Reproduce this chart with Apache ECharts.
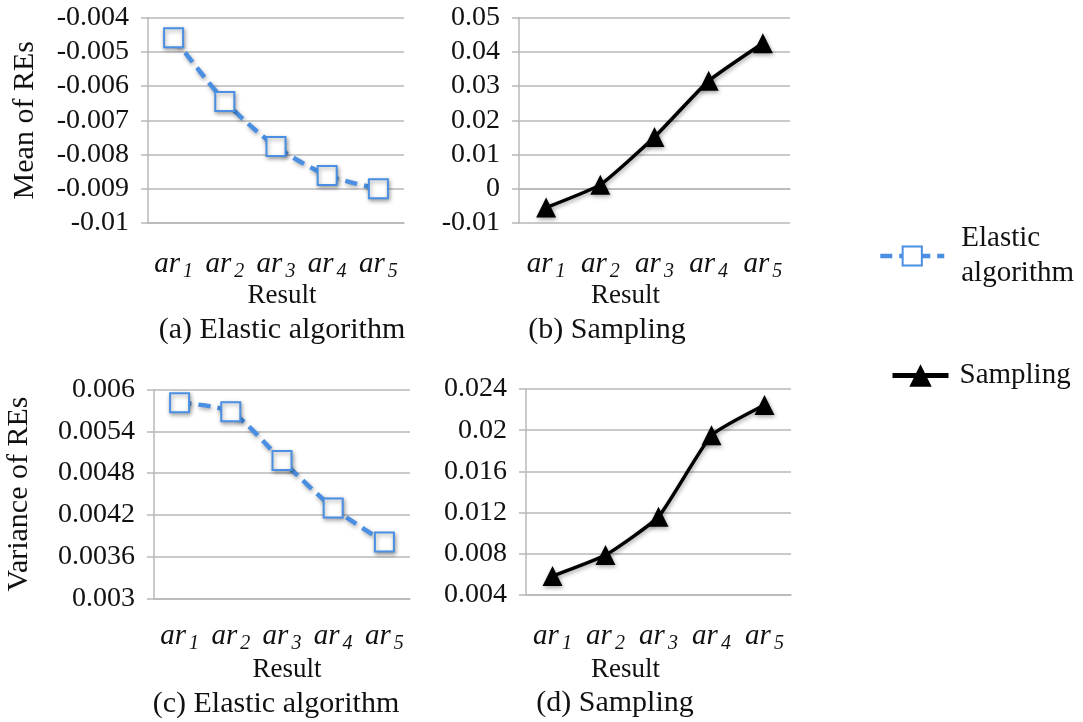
<!DOCTYPE html>
<html>
<head>
<meta charset="utf-8">
<script src="https://cdn.jsdelivr.net/npm/echarts@6/dist/echarts.min.js"></script>
<style>
  html, body { margin: 0; padding: 0; background: #fff; }
  #chart { width: 1083px; height: 722px; }
</style>
</head>
<body>
<div id="chart"></div>
<script>
// Categories and the subscript index shown after "ar"
const categories = ['ar1', 'ar2', 'ar3', 'ar4', 'ar5'];
const subscripts = ['1', '2', '3', '4', '5'];

// Mean of relative errors
const meanElastic = [-0.00459, -0.00645, -0.00777, -0.00861, -0.00900];
const meanSampling = [-0.0055, 0.0012, 0.0151, 0.0315, 0.0425];

// Variance of relative errors
const varElastic = [0.00581, 0.00568, 0.00498, 0.00430, 0.00381];
const varSampling = [0.00584, 0.00788, 0.0116, 0.0195, 0.02245];

// Y tick values (min, max, step) for each panel
const ticksA = [-0.01, -0.004, 0.001];
const ticksB = [-0.01, 0.05, 0.01];
const ticksC = [0.003, 0.006, 0.0006];
const ticksD = [0.004, 0.024, 0.004];

const panelTitles = ['(a) Elastic algorithm', '(b) Sampling', '(c) Elastic algorithm', '(d) Sampling'];
const seriesNames = ['Elastic algorithm', 'Sampling'];

const FONT = '"Liberation Serif", "DejaVu Serif", serif';
const BLUE = '#4a8fe2';
const GRID_COLOR = '#b8b8b8';

const chart = echarts.init(document.getElementById('chart'), null, { renderer: 'canvas' });

const grids = [
  { left: 148, top: 17.5, width: 256, height: 205.5 },
  { left: 519, top: 17.5, width: 271, height: 205.5 },
  { left: 154, top: 389.5, width: 256, height: 209 },
  { left: 526, top: 389, width: 265, height: 206 }
];

// namePad: [left, right] padding that nudges the "Result" name off the grid centre
function xAxis(gridIndex, labelMargin, nameGap, namePad) {
  return {
    type: 'category',
    gridIndex,
    data: categories,
    boundaryGap: true,
    axisLine: { show: true, lineStyle: { color: GRID_COLOR, width: 1.5 } },
    axisTick: { show: false },
    axisLabel: {
      interval: 0,
      hideOverlap: false,
      margin: labelMargin,
      formatter: (v, i) => '{a|ar}{s|' + subscripts[i] + '}',
      rich: {
        a: { fontFamily: FONT, fontSize: 29, fontStyle: 'italic', color: '#111' },
        s: { fontFamily: FONT, fontSize: 20, fontStyle: 'italic', color: '#111', padding: [15, 0, 0, 3] }
      }
    },
    name: 'Result',
    nameLocation: 'middle',
    nameGap,
    nameTextStyle: {
      fontFamily: FONT, fontSize: 27, color: '#111',
      padding: [0, namePad[1], 0, namePad[0]]
    }
  };
}

function yAxis(gridIndex, ticks, name, nameGap) {
  return {
    type: 'value',
    gridIndex,
    min: ticks[0],
    max: ticks[1],
    interval: ticks[2],
    axisLine: { show: true, lineStyle: { color: GRID_COLOR, width: 1.5 } },
    axisTick: { show: true, length: 7, lineStyle: { color: GRID_COLOR, width: 1.5 } },
    splitLine: { show: true, lineStyle: { color: GRID_COLOR, width: 1.5 } },
    axisLabel: {
      margin: 19,
      fontFamily: FONT,
      fontSize: 28,
      color: '#111',
      formatter: v => String(Number(v.toFixed(5)))
    },
    name: name || '',
    nameLocation: 'middle',
    nameRotate: 90,
    nameGap: nameGap || 0,
    nameTextStyle: { fontFamily: FONT, fontSize: 30, color: '#111' }
  };
}

const shadow = { shadowColor: 'rgba(0,0,0,0.35)', shadowBlur: 4, shadowOffsetX: 1, shadowOffsetY: 2 };

function elasticSeries(idx, data) {
  return {
    name: seriesNames[0],
    type: 'line',
    xAxisIndex: idx,
    yAxisIndex: idx,
    data,
    smooth: 0.25,
    symbol: 'rect',
    symbolSize: 19,
    lineStyle: Object.assign({ color: BLUE, width: 4.5, type: [12, 7] }, shadow),
    itemStyle: Object.assign({ color: '#fff', borderColor: BLUE, borderWidth: 2 }, shadow),
    z: 3
  };
}

function samplingSeries(idx, data) {
  return {
    name: seriesNames[1],
    type: 'line',
    xAxisIndex: idx,
    yAxisIndex: idx,
    data,
    smooth: 0.15,
    symbol: 'triangle',
    symbolSize: 20,
    lineStyle: Object.assign({ color: '#000', width: 3.5 }, shadow),
    itemStyle: Object.assign({ color: '#000' }, shadow),
    z: 3
  };
}

const titleStyle = { fontFamily: FONT, fontSize: 30, fontWeight: 'normal', color: '#111' };

const option = {
  backgroundColor: '#fff',
  animation: false,
  title: [
    { text: panelTitles[0], left: 277, top: 310, textAlign: 'center', textStyle: titleStyle },
    { text: panelTitles[1], left: 602, top: 310, textAlign: 'center', textStyle: titleStyle },
    { text: panelTitles[2], left: 271, top: 684, textAlign: 'center', textStyle: titleStyle },
    { text: panelTitles[3], left: 610, top: 683, textAlign: 'center', textStyle: titleStyle }
  ],
  legend: [
    {
      data: [seriesNames[0]],
      orient: 'vertical',
      left: 873,
      top: 216,
      itemWidth: 64,
      itemHeight: 24,
      lineStyle: { width: 4.5 },
      formatter: () => 'Elastic\nalgorithm',
      textStyle: { fontFamily: FONT, fontSize: 29, color: '#111', lineHeight: 35, padding: [0, 0, 0, 12] }
    },
    {
      data: [seriesNames[1]],
      orient: 'vertical',
      left: 885,
      top: 356,
      itemWidth: 56,
      itemHeight: 28,
      lineStyle: { width: 5 },
      textStyle: { fontFamily: FONT, fontSize: 29, color: '#111', padding: [0, 0, 0, 6] }
    }
  ],
  grid: grids,
  xAxis: [
    xAxis(0, 24, 58, [12, 0]),
    xAxis(1, 24, 58, [0, 58]),
    xAxis(2, 20, 58, [10, 0]),
    xAxis(3, 24, 61, [0, 66])
  ],
  yAxis: [
    yAxis(0, ticksA, 'Mean of REs', 108),
    yAxis(1, ticksB),
    yAxis(2, ticksC, 'Variance of REs', 120),
    yAxis(3, ticksD)
  ],
  series: [
    elasticSeries(0, meanElastic),
    samplingSeries(1, meanSampling),
    elasticSeries(2, varElastic),
    samplingSeries(3, varSampling)
  ]
};

chart.setOption(option);
</script>
</body>
</html>
